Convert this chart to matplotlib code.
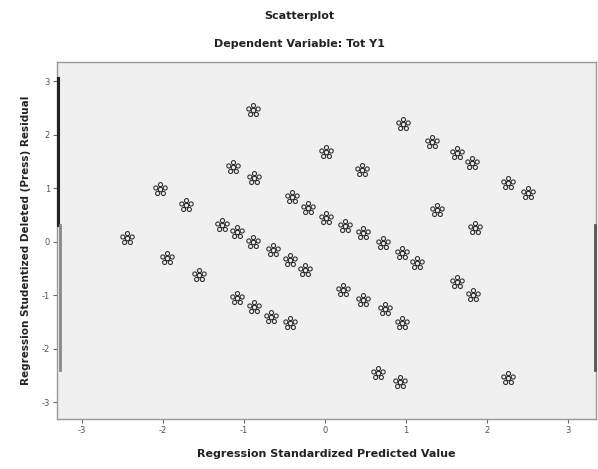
import numpy as np
import matplotlib
matplotlib.use("Agg")
import matplotlib.pyplot as plt
from matplotlib.path import Path
from matplotlib.lines import Line2D

# Data (standardized predicted value vs. studentized deleted residual)
pred = [-0.89, 0.02, -1.14, -0.88, -2.04, -1.72, -0.41, -0.21, 0.02, 0.25,
        0.47, 0.72, 0.95, 1.14, 0.46, 0.96, 1.33, 1.63, 1.82, 2.26,
        2.51, 1.38, 1.85, -2.45, -1.95, -1.55, -1.27, -1.08, -0.89, -0.64,
        -0.43, -0.25, -1.09, -0.87, -0.66, -0.43, 0.22, 0.47, 0.74, 0.95,
        1.63, 1.83, 0.66, 0.93, 2.26]
resid = [2.47, 1.68, 1.40, 1.20, 0.99, 0.69, 0.84, 0.64, 0.45, 0.30,
         0.17, -0.02, -0.21, -0.39, 1.35, 2.21, 1.87, 1.66, 1.48, 1.10,
         0.92, 0.60, 0.26, 0.07, -0.30, -0.62, 0.32, 0.19, 0.00, -0.15,
         -0.34, -0.52, -1.05, -1.21, -1.40, -1.51, -0.90, -1.08, -1.25, -1.51,
         -0.75, -0.99, -2.45, -2.62, -2.54]

xticks = [-3, -2, -1, 0, 1, 2, 3]
yticks = [-3, -2, -1, 0, 1, 2, 3]

title1 = "Scatterplot"
title2 = "Dependent Variable: Tot Y1"
xlabel = "Regression Standardized Predicted Value"
ylabel = "Regression Studentized Deleted (Press) Residual"

# sunflower-like marker (cluster of small rings)
circ = Path.unit_circle()
parts = [Path(circ.vertices * 0.28, circ.codes)]
for ang in np.deg2rad([90, 162, 234, 306, 18]):
    off = np.array([np.cos(ang), np.sin(ang)]) * 0.62
    parts.append(Path(circ.vertices * 0.26 + off, circ.codes))
sunflower = Path.make_compound_path(*parts)

fig = plt.figure(figsize=(5.98, 4.69), dpi=100)
fig.patch.set_facecolor("white")
ax = fig.add_axes([0.0953, 0.1066, 0.9013, 0.7612])
ax.set_facecolor("#f0f0f0")

ax.plot(pred, resid, linestyle="none", marker=sunflower, markersize=10,
        markerfacecolor="none", markeredgecolor="#333333", markeredgewidth=0.8)

ax.set_xlim(-3.31, 3.35)
ax.set_ylim(-3.31, 3.36)
ax.set_xticks(xticks)
ax.set_yticks(yticks)
ax.set_xticklabels([str(t) for t in xticks], fontsize=6, color="#555555")
ax.set_yticklabels([str(t) for t in yticks], fontsize=6, color="#555555")
ax.tick_params(direction="out", length=3, width=0.8, color="#666666", pad=2)
for s in ax.spines.values():
    s.set_color("#999999")
    s.set_linewidth(1.0)

ax.set_xlabel(xlabel, fontsize=8, fontweight="bold", color="#222222", labelpad=10)
ax.set_ylabel(ylabel, fontsize=7.5, fontweight="bold", color="#222222", labelpad=8)

fig.text(0.5, 1 - 16 / 469, title1, ha="center", va="center",
         fontsize=8, fontweight="bold", color="#222222")
fig.text(0.5, 1 - 44 / 469, title2, ha="center", va="center",
         fontsize=8, fontweight="bold", color="#222222")

# scan artifacts along the edges
fig.add_artist(Line2D([58 / 598, 58 / 598], [1 - 78 / 469, 1 - 225 / 469],
                      color="#222222", linewidth=2.2, transform=fig.transFigure))
fig.add_artist(Line2D([60 / 598, 60 / 598], [1 - 225 / 469, 1 - 370 / 469],
                      color="#888888", linewidth=2.0, transform=fig.transFigure))
fig.add_artist(Line2D([595 / 598, 595 / 598], [1 - 225 / 469, 1 - 370 / 469],
                      color="#555555", linewidth=2.0, transform=fig.transFigure))

fig.savefig("out.png", dpi=100)
